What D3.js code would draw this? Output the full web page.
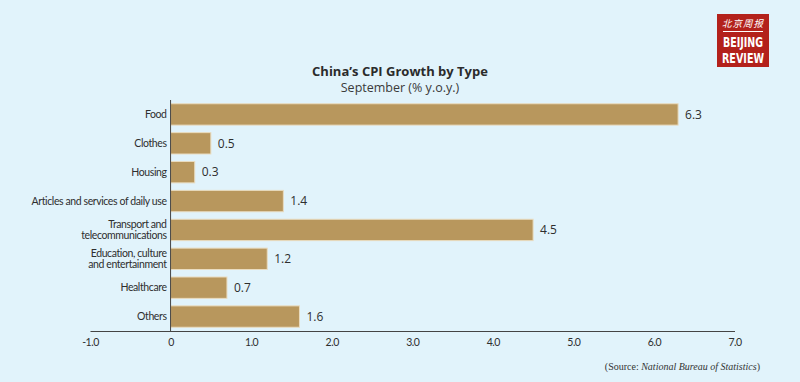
<!DOCTYPE html>
<html><head><meta charset="utf-8">
<script src="https://cdn.jsdelivr.net/npm/d3@7"></script>
<style>
html,body{margin:0;padding:0;background:#e1f3fb;}
svg{display:block;}
</style></head>
<body>
<svg id="chart" width="800" height="382"></svg>
<script>
const categories = [
  ["Food"],
  ["Clothes"],
  ["Housing"],
  ["Articles and services of daily use"],
  ["Transport and", "telecommunications"],
  ["Education, culture", "and entertainment"],
  ["Healthcare"],
  ["Others"]
];
const values = [6.3, 0.5, 0.3, 1.4, 4.5, 1.2, 0.7, 1.6];
const tickValues = [-1, 0, 1, 2, 3, 4, 5, 6, 7];
const tickLabels = ["-1.0", "0", "1.0", "2.0", "3.0", "4.0", "5.0", "6.0", "7.0"];

const svg = d3.select("#chart");
svg.append("rect").attr("width", 800).attr("height", 382).attr("fill", "#e1f3fb");

const x = d3.scaleLinear().domain([-1, 7]).range([90, 734.5]);
const y = d3.scaleBand().domain(d3.range(categories.length)).range([100, 331]).paddingInner(0.26).paddingOuter(0.13);

const font = "'Open Sans', 'Noto Sans', sans-serif";
const lfont = "Lato, 'Open Sans', sans-serif";

// title
svg.append("text").attr("x", 400).attr("y", 76).attr("text-anchor", "middle")
  .attr("font-family", font).attr("font-weight", 700).attr("font-size", 13).attr("fill", "#2b2b2b")
  .text("China’s CPI Growth by Type");
svg.append("text").attr("x", 400).attr("y", 92).attr("text-anchor", "middle")
  .attr("font-family", font).attr("font-size", 12.5).attr("fill", "#3a3a3a")
  .text("September (% y.o.y.)");

// bars
const g = svg.append("g");
g.selectAll("rect.bar").data(values).join("rect").attr("class", "bar")
  .attr("x", x(0)).attr("y", (d, i) => y(i))
  .attr("width", d => x(d) - x(0)).attr("height", y.bandwidth())
  .attr("fill", "#b8975d").attr("stroke", "#e9dcc0").attr("stroke-width", 1);

// value labels
g.selectAll("text.val").data(values).join("text").attr("class", "val")
  .attr("x", d => x(d) + 7).attr("y", (d, i) => y(i) + y.bandwidth() / 2)
  .attr("dy", "0.35em").attr("font-family", font).attr("font-size", 12).attr("fill", "#2e2e2e")
  .text(d => d.toFixed(1));

// category labels
const cl = g.selectAll("text.cat").data(categories).join("text").attr("class", "cat")
  .attr("x", x(0) - 4).attr("text-anchor", "end")
  .attr("font-family", lfont).attr("font-size", 10.5).attr("fill", "#2e2e2e").attr("letter-spacing", -0.4)
  .attr("y", (d, i) => y(i) + y.bandwidth() / 2);
cl.each(function(d) {
  const t = d3.select(this);
  const n = d.length;
  d.forEach((line, k) => {
    t.append("tspan").attr("x", x(0) - 4)
      .attr("dy", k === 0 ? (0.35 - (n - 1) * 0.55) + "em" : "1.1em")
      .text(line);
  });
});

// axes
const axis = d3.axisBottom(x).tickValues(tickValues).tickSize(0).tickPadding(8)
  .tickFormat((d, i) => tickLabels[i]);
const ax = svg.append("g").attr("transform", "translate(0,331)").call(axis);
ax.select(".domain").attr("stroke", "#444").attr("stroke-width", 1.2);
ax.selectAll("text").attr("font-family", lfont).attr("font-size", 10.5).attr("fill", "#2e2e2e").attr("letter-spacing", -0.5);

svg.append("line").attr("x1", x(0)).attr("x2", x(0)).attr("y1", 100).attr("y2", 331)
  .attr("stroke", "#444").attr("stroke-width", 1);

// source
const src = svg.append("text").attr("x", 760).attr("y", 370).attr("text-anchor", "end")
  .attr("font-family", "'Liberation Serif', serif").attr("font-size", 10).attr("fill", "#333");
src.append("tspan").text("(Source: ");
src.append("tspan").attr("font-style", "italic").text("National Bureau of Statistics");
src.append("tspan").text(")");

// logo
const logo = svg.append("g").attr("transform", "translate(717,14)");
logo.append("rect").attr("width", 52).attr("height", 53).attr("fill", "#b3211b");
logo.append("text").attr("x", 26).attr("y", 13).attr("text-anchor", "middle")
  .attr("font-family", "'Noto Sans CJK SC', sans-serif").attr("font-size", 9.5).attr("font-style", "italic").attr("fill", "#fff").attr("letter-spacing", 1)
  .text("北京周报");
logo.append("line").attr("x1", 6).attr("x2", 46).attr("y1", 17.5).attr("y2", 17.5).attr("stroke", "#fff").attr("stroke-width", 1);
logo.append("text").attr("x", 26).attr("y", 33).attr("text-anchor", "middle")
  .attr("font-family", "'Liberation Sans Narrow', 'DejaVu Sans Condensed', sans-serif").attr("font-weight", 700).attr("font-size", 13.5).attr("fill", "#fff")
  .attr("textLength", 40).attr("lengthAdjust", "spacingAndGlyphs")
  .text("BEIJING");
logo.append("text").attr("x", 26).attr("y", 49).attr("text-anchor", "middle")
  .attr("font-family", "'Liberation Sans Narrow', 'DejaVu Sans Condensed', sans-serif").attr("font-weight", 700).attr("font-size", 13.5).attr("fill", "#fff")
  .attr("textLength", 42).attr("lengthAdjust", "spacingAndGlyphs")
  .text("REVIEW");
</script>
</body></html>
